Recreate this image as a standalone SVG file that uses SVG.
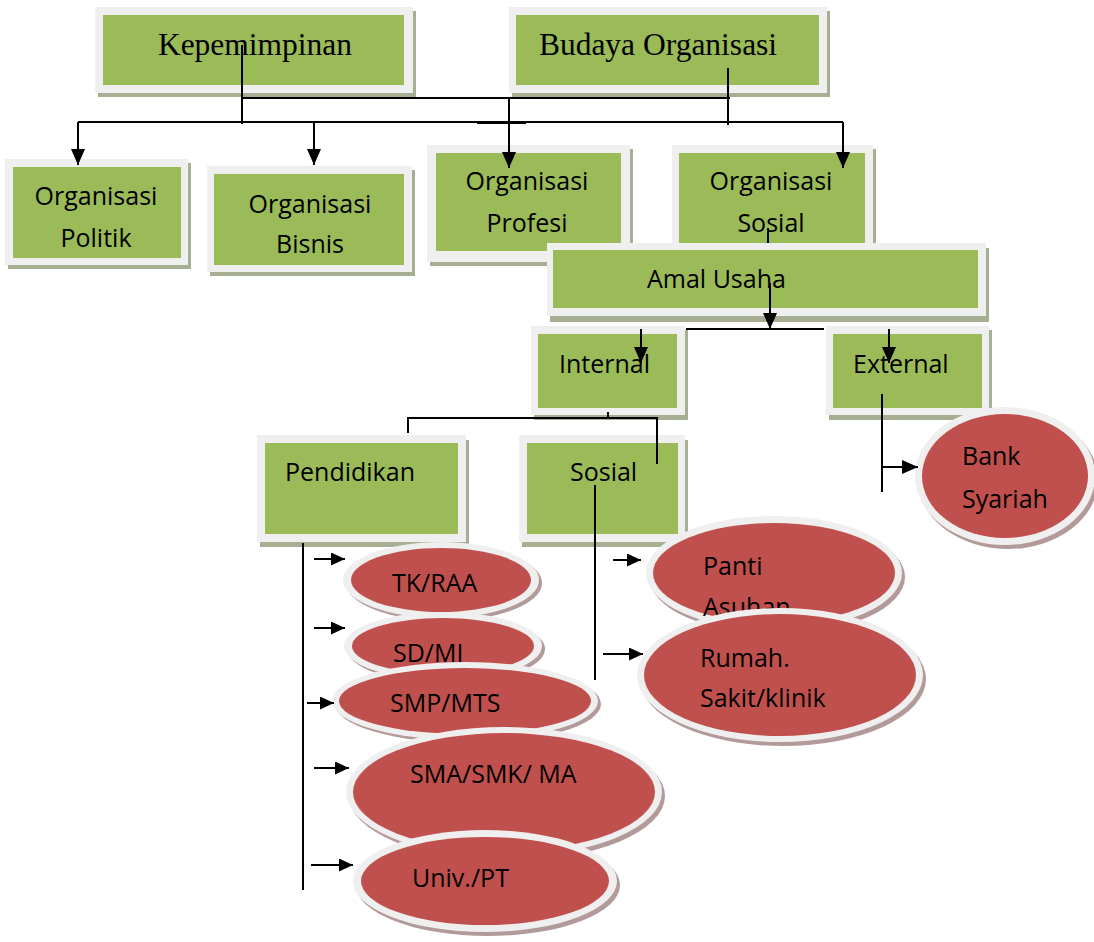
<svg xmlns="http://www.w3.org/2000/svg" width="1094" height="942" viewBox="0 0 1094 942">
<style>
.sh{fill:#a7af92}
.bd{fill:#efefef}
.gr{fill:#9bbb59}
.esh{fill:#b39a9a}
.rd{fill:#c0504d}
.serif{font-family:"Liberation Serif","Times New Roman",serif;font-size:31.5px;fill:#000}
.t{font-family:"Open Sans","Noto Sans",sans-serif;font-size:25px;fill:#000}
.c{text-anchor:middle}
.ln{stroke:#000;stroke-width:2;fill:none}
</style>
<defs>
<marker id="ah" markerWidth="16" markerHeight="14" refX="16" refY="7" orient="auto" markerUnits="userSpaceOnUse"><path d="M0,0 L16,7 L0,14 z" fill="#000"/></marker>
<marker id="as" markerWidth="14" markerHeight="13" refX="14" refY="6.5" orient="auto" markerUnits="userSpaceOnUse"><path d="M0,0 L14,6.5 L0,13 z" fill="#000"/></marker>
</defs>

<g id="kepemimpinan">
<rect class="sh" x="98" y="11" width="318" height="86"/>
<rect class="bd" x="95" y="7" width="318" height="86"/>
<rect class="gr" x="103" y="15" width="301" height="70"/>
<text class="serif c" x="255" y="55">Kepemimpinan</text>
</g>
<g id="budaya">
<rect class="sh" x="512" y="11" width="318" height="86"/>
<rect class="bd" x="509" y="7" width="318" height="86"/>
<rect class="gr" x="516" y="15" width="303" height="70"/>
<text class="serif c" x="658" y="55">Budaya Organisasi</text>
</g>

<g id="org-politik">
<rect class="sh" x="8" y="163" width="183" height="106"/>
<rect class="bd" x="5" y="159" width="183" height="106"/>
<rect class="gr" x="13" y="167" width="168" height="91"/>
<text class="t c" x="96" y="205">Organisasi</text>
<text class="t c" x="96" y="247">Politik</text>
</g>
<g id="org-bisnis">
<rect class="sh" x="210" y="170" width="205" height="106"/>
<rect class="bd" x="207" y="166" width="205" height="106"/>
<rect class="gr" x="214" y="174" width="190" height="91"/>
<text class="t c" x="310" y="213">Organisasi</text>
<text class="t c" x="310" y="253">Bisnis</text>
</g>
<g id="org-profesi">
<rect class="sh" x="430" y="149" width="203" height="117"/>
<rect class="bd" x="427" y="145" width="203" height="117"/>
<rect class="gr" x="436" y="153" width="185" height="98"/>
<text class="t c" x="527" y="190">Organisasi</text>
<text class="t c" x="527" y="232">Profesi</text>
</g>
<g id="org-sosial">
<rect class="sh" x="675" y="149" width="201" height="105"/>
<rect class="bd" x="672" y="145" width="201" height="105"/>
<rect class="gr" x="679" y="153" width="186" height="90"/>
<text class="t c" x="771" y="190">Organisasi</text>
<text class="t c" x="771" y="232">Sosial</text>
</g>

<g id="amal-usaha">
<rect class="sh" x="550" y="248" width="439" height="74"/>
<rect class="bd" x="547" y="243" width="439" height="73"/>
<rect class="gr" x="553" y="250" width="425" height="58"/>
<text class="t" x="647" y="288">Amal Usaha</text>
</g>
<g id="internal">
<rect class="sh" x="534" y="330" width="154" height="90"/>
<rect class="bd" x="531" y="326" width="154" height="89"/>
<rect class="gr" x="538" y="334" width="139" height="74"/>
<text class="t" x="559" y="373">Internal</text>
</g>
<g id="external">
<rect class="sh" x="829" y="330" width="163" height="90"/>
<rect class="bd" x="826" y="326" width="163" height="89"/>
<rect class="gr" x="833" y="334" width="149" height="74"/>
<text class="t" x="853" y="373">External</text>
</g>
<g id="pendidikan">
<rect class="sh" x="260" y="440" width="209" height="107"/>
<rect class="bd" x="257" y="435" width="209" height="107"/>
<rect class="gr" x="265" y="443" width="193" height="91"/>
<text class="t" x="285" y="481">Pendidikan</text>
</g>
<g id="sosial">
<rect class="sh" x="522" y="440" width="166" height="107"/>
<rect class="bd" x="519" y="435" width="166" height="107"/>
<rect class="gr" x="527" y="443" width="151" height="91"/>
<text class="t" x="570" y="481">Sosial</text>
</g>

<g id="bank-syariah">
<ellipse class="esh" cx="1008" cy="480" rx="90" ry="69"/>
<ellipse class="bd" cx="1005" cy="476" rx="90" ry="69"/>
<ellipse class="rd" cx="1005" cy="476" rx="83" ry="62"/>
<text class="t" x="962" y="465">Bank</text>
<text class="t" x="962" y="508">Syariah</text>
</g>

<g id="panti-asuhan">
<ellipse class="esh" cx="777" cy="577" rx="128" ry="57"/>
<ellipse class="bd" cx="774" cy="573" rx="128" ry="57"/>
<ellipse class="rd" cx="774" cy="573" rx="121" ry="50"/>
<text class="t" x="703" y="575">Panti</text>
<text class="t" x="703" y="616">Asuhan</text>
</g>
<g id="rumah-sakit">
<ellipse class="esh" cx="783" cy="679" rx="143" ry="67"/>
<ellipse class="bd" cx="780" cy="675" rx="143" ry="67"/>
<ellipse class="rd" cx="780" cy="675" rx="136" ry="61"/>
<text class="t" x="700" y="667">Rumah.</text>
<text class="t" x="700" y="707">Sakit/klinik</text>
</g>

<g id="tk-raa">
<ellipse class="esh" cx="444" cy="583" rx="98" ry="38"/>
<ellipse class="bd" cx="441" cy="580" rx="98" ry="38"/>
<ellipse class="rd" cx="441" cy="580" rx="90" ry="32"/>
<text class="t" x="392" y="592">TK/RAA</text>
</g>
<g id="sd-mi">
<ellipse class="esh" cx="446" cy="649" rx="99" ry="34"/>
<ellipse class="bd" cx="443" cy="646" rx="99" ry="34"/>
<ellipse class="rd" cx="443" cy="646" rx="91" ry="28"/>
<text class="t" x="393" y="662">SD/MI</text>
</g>
<g id="smp-mts">
<ellipse class="esh" cx="468" cy="704" rx="133" ry="39"/>
<ellipse class="bd" cx="465" cy="701" rx="133" ry="39"/>
<ellipse class="rd" cx="465" cy="701" rx="126" ry="33"/>
<text class="t" x="390" y="712">SMP/MTS</text>
</g>
<g id="sma-smk-ma">
<ellipse class="esh" cx="507" cy="796" rx="158" ry="65"/>
<ellipse class="bd" cx="504" cy="792" rx="158" ry="65"/>
<ellipse class="rd" cx="504" cy="792" rx="151" ry="59"/>
<text class="t" x="410" y="783">SMA/SMK/ MA</text>
</g>
<g id="univ-pt">
<ellipse class="esh" cx="488" cy="885" rx="132" ry="51"/>
<ellipse class="bd" cx="485" cy="881" rx="132" ry="51"/>
<ellipse class="rd" cx="485" cy="881" rx="124" ry="44"/>
<text class="t" x="412" y="887">Univ./PT</text>
</g>

<g id="connectors">
<path class="ln" d="M242,45 V124"/>
<path class="ln" d="M242,98 H730"/>
<path class="ln" d="M728,68 V125"/>
<path class="ln" d="M78,122 H843"/>
<path class="ln" d="M477,123 H526"/>
<path class="ln" d="M78,122 V165" marker-end="url(#ah)"/>
<path class="ln" d="M314,122 V165" marker-end="url(#ah)"/>
<path class="ln" d="M509,98 V168" marker-end="url(#ah)"/>
<path class="ln" d="M843,122 V168" marker-end="url(#ah)"/>
<path class="ln" d="M768,228 V243"/>
<path class="ln" d="M770,283 V329" marker-end="url(#ah)"/>
<path class="ln" d="M686,329 H824"/>
<path class="ln" d="M641,329 V363" marker-end="url(#ah)"/>
<path class="ln" d="M889,329 V363" marker-end="url(#ah)"/>
<path class="ln" d="M882,394 V492"/>
<path class="ln" d="M882,467 H918" marker-end="url(#ah)"/>
<path class="ln" d="M608,412 V418"/>
<path class="ln" d="M408,433 V418 H657 V464"/>
<path class="ln" d="M303,543 V890"/>
<path class="ln" d="M314,559 H345" marker-end="url(#as)"/>
<path class="ln" d="M314,628 H345" marker-end="url(#as)"/>
<path class="ln" d="M307,703 H334" marker-end="url(#as)"/>
<path class="ln" d="M314,768 H349" marker-end="url(#as)"/>
<path class="ln" d="M311,865 H353" marker-end="url(#as)"/>
<path class="ln" d="M595,485 V680"/>
<path class="ln" d="M613,560 H641" marker-end="url(#as)"/>
<path class="ln" d="M603,654 H643" marker-end="url(#as)"/>
</g>
</svg>
